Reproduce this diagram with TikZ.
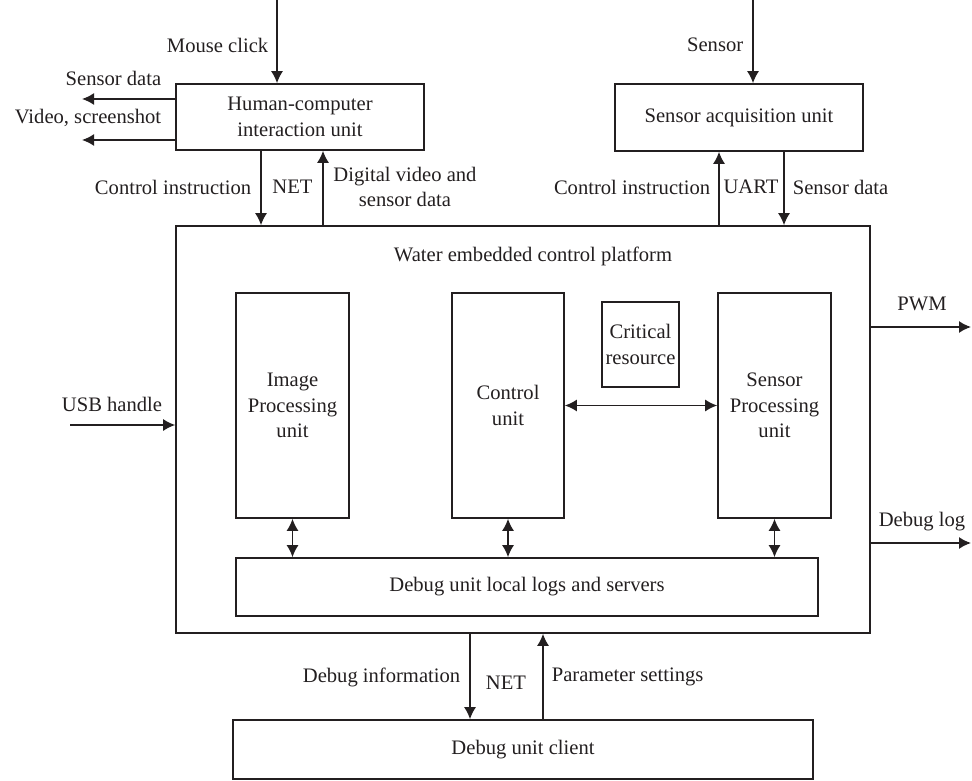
\documentclass[tikz,border=0pt]{standalone}
\usepackage{fontspec}
\setmainfont{Liberation Serif}
\usetikzlibrary{arrows.meta}
\definecolor{ink}{RGB}{35,31,32}

\begin{document}
\begin{tikzpicture}[x = 0.5pt, y = -0.5pt, line width = 0.8pt, color = ink,
                        font = \fontsize{10.3}{12.8}\selectfont,
                        unit/.style = {rectangle, draw, inner sep = 0pt, align = center},
                        lbl/.style = {inner sep = 0pt, align = center},
                        arr/.style = {-{Latex[length = 6pt, width = 6pt]}},
                        darr/.style = {{Latex[length = 6pt, width = 6pt]}-{Latex[length = 6pt, width = 6pt]}}]
      \useasboundingbox (0, 0) rectangle (972, 780);
      % boxes
      \node [unit, minimum width = 124pt, minimum height = 33pt] (hci) at (300, 117){Human-computer\\interaction unit};
      \node [unit, minimum width = 124pt, minimum height = 33.5pt] (sacq) at (739, 117.5){Sensor acquisition unit};
      \node [unit, minimum width = 347pt, minimum height = 203.5pt] (plat) at (523, 429.5){};
      \node [lbl] (title) at (533, 256){Water embedded control platform};
      \node [unit, minimum width = 56.5pt, minimum height = 112.5pt] (img) at (292.5, 405.5){Image\\Processing\\unit};
      \node [unit, minimum width = 56pt, minimum height = 112.5pt] (ctrl) at (508, 405.5){Control\\unit};
      \node [unit, minimum width = 38.5pt, minimum height = 42.5pt] (crit) at (640.5, 344.5){Critical\\resource};
      \node [unit, minimum width = 56.5pt, minimum height = 112.5pt] (sproc) at (774.5, 405.5){Sensor\\Processing\\unit};
      \node [unit, minimum width = 291pt, minimum height = 29pt] (dlog) at (527, 587){Debug unit local logs and servers};
      \node [unit, minimum width = 290pt, minimum height = 29.5pt] (client) at (523, 749.5){Debug unit client};
      % free ends
      \coordinate (mc) at (277, 0);
      \coordinate (sdo) at (82, 99);
      \coordinate (vso) at (82, 140);
      \coordinate (ci) at (261, 0);
      \coordinate (dv) at (323, 0);
      \coordinate (sn) at (753, 0);
      \coordinate (ua) at (719, 0);
      \coordinate (sd) at (784, 0);
      \coordinate (pwm) at (971, 327);
      \coordinate (dbg) at (971, 543);
      \coordinate (usb) at (70, 425);
      \coordinate (di) at (470, 0);
      \coordinate (ps) at (543, 0);
      % connectors
      \draw [arr] (mc) -- (mc |- hci.north);
      \draw [arr] (sdo -| hci.west) -- (sdo);
      \draw [arr] (vso -| hci.west) -- (vso);
      \draw [arr] (ci |- hci.south) -- (ci |- plat.north);
      \draw [arr] (dv |- plat.north) -- (dv |- hci.south);
      \draw [arr] (sn) -- (sn |- sacq.north);
      \draw [arr] (ua |- plat.north) -- (ua |- sacq.south);
      \draw [arr] (sd |- sacq.south) -- (sd |- plat.north);
      \draw [arr] (pwm -| plat.east) -- (pwm);
      \draw [arr] (dbg -| plat.east) -- (dbg);
      \draw [arr] (usb) -- (usb -| plat.west);
      \draw [darr] (ctrl.east) -- (sproc.west);
      \draw [darr] (img.south) -- (img.south |- dlog.north);
      \draw [darr] (ctrl.south) -- (ctrl.south |- dlog.north);
      \draw [darr] (sproc.south) -- (sproc.south |- dlog.north);
      \draw [arr] (di |- plat.south) -- (di |- client.north);
      \draw [arr] (ps |- client.north) -- (ps |- plat.south);
      % labels
      \node [lbl, anchor = east] (lmc) at (269, 45){Mouse click};
      \node [lbl, anchor = east] (lsdo) at (162, 78){Sensor data};
      \node [lbl, anchor = east] (lvso) at (162, 118){Video, screenshot};
      \node [lbl, anchor = east] (lci) at (252, 187){Control instruction};
      \node [lbl] (lnet) at (292.5, 187){NET};
      \node [lbl] (ldv) at (405, 187){Digital video and\\sensor data};
      \node [lbl, anchor = east] (lsn) at (744, 45){Sensor};
      \node [lbl, anchor = east] (lci2) at (711, 187){Control instruction};
      \node [lbl] (luart) at (751, 187){UART};
      \node [lbl, anchor = west] (lsd) at (792, 187){Sensor data};
      \node [lbl] (lpwm) at (922, 304){PWM};
      \node [lbl] (ldbg) at (922, 522){Debug log};
      \node [lbl] (lusb) at (112, 404){USB handle};
      \node [lbl, anchor = east] (ldi) at (461, 677){Debug information};
      \node [lbl] (lnet2) at (506, 683){NET};
      \node [lbl, anchor = west] (lps) at (551, 677){Parameter settings};
    \end{tikzpicture}
\end{document}
